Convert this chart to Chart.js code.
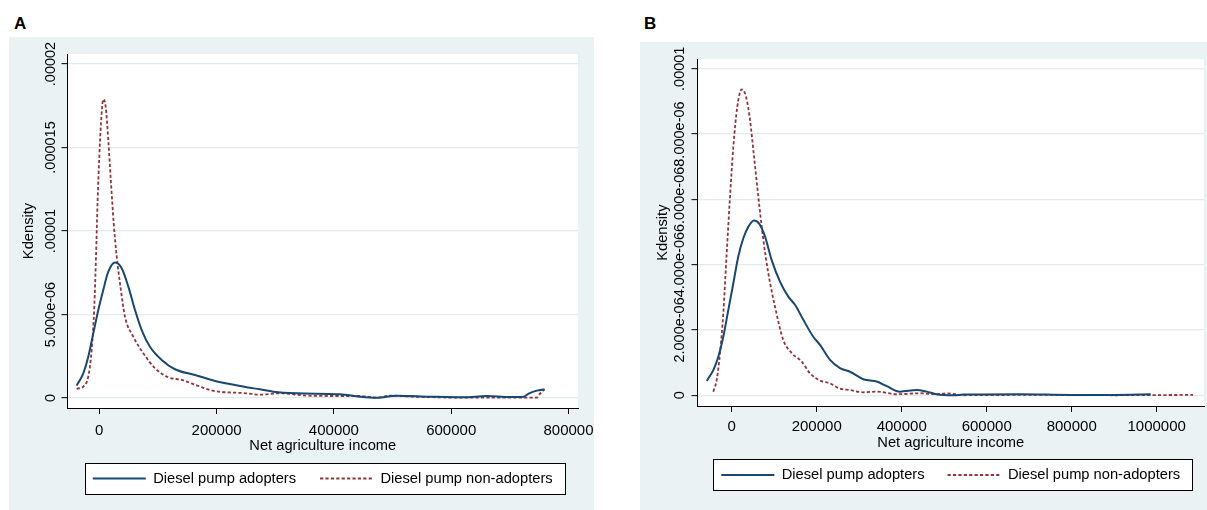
<!DOCTYPE html>
<html>
<head>
<meta charset="utf-8">
<script src="https://cdn.jsdelivr.net/npm/chart.js@4"></script>
<style>
  html, body { margin: 0; padding: 0; background: #fff; }
  body { width: 1207px; height: 510px; position: relative; overflow: hidden; font-family: "Liberation Sans", Arial, sans-serif; }
  .bg { position: absolute; background: #eaf2f3; }
  .tag { position: absolute; font-weight: bold; font-size: 17px; line-height: 17px; color: #000; }
  canvas { position: absolute; top: 0; }
</style>
</head>
<body>
<div class="tag" style="left:14px;top:15px">A</div>
<div class="tag" style="left:644px;top:15px">B</div>
<div class="bg" style="left:9px;top:37px;width:585px;height:473px"></div>
<div class="bg" style="left:640px;top:42px;width:567px;height:468px"></div>
<canvas id="chartA" width="620" height="510" style="left:0"></canvas>
<canvas id="chartB" width="587" height="510" style="left:620px"></canvas>
<script>
// ── données ─────────────────────────────────────────────────
const seriesLabels = ['Diesel pump adopters', 'Diesel pump non-adopters'];

// Panneau A
const incomeA_adopt = [-38500, -27300, -18800, -10200, -1700, 6800, 15300, 26800, 38200, 49500, 60900, 72300, 86400, 106400, 129100, 163200, 197300, 220000, 251300, 274000, 296700, 336600, 410400, 444500, 473000, 507100, 563900, 620600, 660600, 700300, 723300, 733000, 746100, 759100];
const densA_adopt = [7.4e-7, 1.48e-6, 2.47e-6, 3.87e-6, 5.27e-6, 6.47e-6, 7.56e-6, 8.12e-6, 7.77e-6, 6.67e-6, 5.27e-6, 4.07e-6, 3.07e-6, 2.28e-6, 1.72e-6, 1.38e-6, 1.02e-6, 8.5e-7, 6.4e-7, 5.2e-7, 3.8e-7, 2.8e-7, 2.2e-7, 8e-8, 2e-8, 1.4e-7, 8e-8, 4e-8, 1.2e-7, 6e-8, 8e-8, 2.8e-7, 4.4e-7, 5.2e-7];
const incomeA_non = [-38500, -24400, -18800, -13000, -8500, -5600, -2800, 0, 2900, 6800, 10900, 15300, 20000, 24600, 29700, 35300, 43800, 58000, 75000, 95000, 117600, 140500, 168800, 195000, 251300, 274000, 308100, 353600, 393400, 444500, 473000, 495700, 535400, 620600, 700300, 746100, 749400, 759100];
const densA_non = [5.4e-7, 7.8e-7, 1.28e-6, 2.87e-6, 5.47e-6, 8.46e-6, 1.186e-5, 1.445e-5, 1.645e-5, 1.789e-5, 1.744e-5, 1.545e-5, 1.286e-5, 1.046e-5, 8.46e-6, 6.87e-6, 4.87e-6, 3.67e-6, 2.68e-6, 1.78e-6, 1.24e-6, 1.08e-6, 7.2e-7, 4.3e-7, 2.8e-7, 2.0e-7, 2.8e-7, 1.4e-7, 1.2e-7, 1.2e-7, 2e-8, 1.4e-7, 8e-8, 2e-8, 2e-8, 2e-8, 1.8e-7, 5.2e-7];
const xTicksA = [0, 200000, 400000, 600000, 800000];
const xTickLabelsA = ['0', '200000', '400000', '600000', '800000'];
const yTicksA = [0, 0.000005, 0.00001, 0.000015, 0.00002];
const yTickLabelsA = ['0', '5.000e-06', '.00001', '.000015', '.00002'];

// Panneau B
const incomeB_adopt = [-58800, -43300, -31500, -19800, -8000, 3800, 15500, 27300, 39100, 52500, 64900, 78400, 94100, 113600, 133200, 148900, 168500, 192000, 207800, 231300, 254800, 278300, 309700, 341200, 364700, 396000, 435300, 458800, 482400, 521500, 545000, 678400, 800000, 900000, 986000];
const densB_adopt = [4.4e-7, 7.7e-7, 1.18e-6, 1.79e-6, 2.61e-6, 3.43e-6, 4.25e-6, 4.81e-6, 5.16e-6, 5.35e-6, 5.25e-6, 4.86e-6, 4.14e-6, 3.48e-6, 3.02e-6, 2.77e-6, 2.31e-6, 1.79e-6, 1.54e-6, 1.08e-6, 8.3e-7, 7.2e-7, 4.9e-7, 4.2e-7, 2.8e-7, 1.1e-7, 1.6e-7, 1.1e-7, 3e-8, 0, 2e-8, 3e-8, 1e-8, 1e-8, 3e-8];
const incomeB_non = [-43300, -35300, -27500, -19800, -11800, -4000, 3800, 13200, 23500, 33600, 43100, 52500, 62600, 74400, 86100, 101900, 121400, 141200, 164700, 184200, 207800, 231300, 254800, 278300, 309700, 341200, 388200, 443100, 482400, 505900, 545000, 700000, 900000, 1085600];
const densB_non = [1.1e-7, 4.7e-7, 1.29e-6, 2.51e-6, 4.35e-6, 6.08e-6, 7.61e-6, 8.84e-6, 9.37e-6, 9.15e-6, 8.43e-6, 7.31e-6, 6.08e-6, 4.76e-6, 3.74e-6, 2.71e-6, 1.69e-6, 1.29e-6, 1.03e-6, 6.7e-7, 4.5e-7, 3.6e-7, 2.0e-7, 1.6e-7, 9e-8, 1.1e-7, 3e-8, 6e-8, 3e-8, 6e-8, 0, 1e-8, 0, 1e-8];
const xTicksB = [0, 200000, 400000, 600000, 800000, 1000000];
const xTickLabelsB = ['0', '200000', '400000', '600000', '800000', '1000000'];
const yTicksB = [0, 0.000002, 0.000004, 0.000006, 0.000008, 0.00001];
const yTickLabelsB = ['0', '2.000e-06', '4.000e-06', '6.000e-06', '8.000e-06', '.00001'];

const NAVY = '#1a476f';
const MAROON = '#90353b';
const GRID = '#e1eaec';
const FONT = '"Liberation Sans", Arial, sans-serif';

Chart.defaults.font.family = FONT;
Chart.defaults.color = '#000';

const pts = (xs, ys) => xs.map((x, i) => ({ x, y: ys[i] }));

// fond blanc de la zone de tracé + cadre de la légende
const plotBg = {
  id: 'plotBg',
  beforeDraw(chart) {
    const { ctx, chartArea: a } = chart;
    ctx.save();
    ctx.fillStyle = '#fff';
    ctx.fillRect(a.left, a.top, a.right - a.left, a.bottom - a.top);
    const boxes = chart.legend && chart.legend.legendHitBoxes;
    if (boxes && boxes.length) {
      const last = boxes[boxes.length - 1];
      const l = Math.round(boxes[0].left - 8);
      const r = Math.round(last.left + last.width + 12);
      const cy = boxes[0].top + boxes[0].height / 2;
      const t = Math.round(cy - 16);
      ctx.fillRect(l, t, r - l, 31);
      ctx.strokeStyle = '#000';
      ctx.lineWidth = 1;
      ctx.strokeRect(l + 0.5, t + 0.5, r - l, 31);
    }
    ctx.restore();
  }
};

// étiquettes de l'axe Y tournées à 90° (comme Stata)
const rotatedYTicks = {
  id: 'rotatedYTicks',
  afterDraw(chart, args, opts) {
    const y = chart.scales.y;
    const ctx = chart.ctx;
    ctx.save();
    ctx.font = '14.5px ' + FONT;
    ctx.fillStyle = '#000';
    ctx.textAlign = 'center';
    ctx.textBaseline = 'middle';
    y.ticks.forEach((t, i) => {
      ctx.save();
      ctx.translate(opts.x, y.getPixelForValue(t.value));
      ctx.rotate(-Math.PI / 2);
      ctx.fillText(opts.labels[i], 0, 0);
      ctx.restore();
    });
    ctx.restore();
  }
};

function buildChart(id, c) {
  return new Chart(document.getElementById(id), {
    type: 'line',
    data: {
      datasets: [
        { label: seriesLabels[0], data: pts(c.xAdopt, c.yAdopt), borderColor: NAVY, borderWidth: 2,
          pointRadius: 0, cubicInterpolationMode: 'monotone', fill: false },
        { label: seriesLabels[1], data: pts(c.xNon, c.yNon), borderColor: MAROON, borderWidth: 1.8,
          borderDash: [3.2, 2.2], pointRadius: 0, cubicInterpolationMode: 'monotone', fill: false }
      ]
    },
    options: {
      responsive: false,
      animation: false,
      events: [],
      layout: { padding: c.padding },
      plugins: {
        tooltip: { enabled: false },
        legend: {
          position: 'bottom',
          fullSize: false,
          labels: {
            font: { size: 14.7 },
            color: '#000',
            usePointStyle: true,
            pointStyleWidth: 53,
            padding: c.legendGap,
            generateLabels: ch => ch.data.datasets.map((ds, i) => ({
              text: ds.label, datasetIndex: i, hidden: false, fontColor: '#000',
              strokeStyle: ds.borderColor, fillStyle: ds.borderColor,
              lineWidth: ds.borderWidth, lineDash: ds.borderDash || [], pointStyle: 'line'
            }))
          }
        },
        rotatedYTicks: { x: c.yLabelX, labels: c.yTickLabels }
      },
      scales: {
        x: {
          type: 'linear',
          min: c.xMin, max: c.xMax,
          afterBuildTicks: s => { s.ticks = c.xTicks.map(v => ({ value: v })); },
          afterFit: s => { s.height = c.xHeight; },
          grid: { drawOnChartArea: false, tickLength: 6, tickColor: '#000', tickWidth: 1 },
          border: { color: '#000', width: 1 },
          ticks: { padding: c.xTickPad, font: { size: 15 }, maxRotation: 0, autoSkip: false,
                   callback: (v, i) => c.xTickLabels[i] },
          title: { display: true, text: 'Net agriculture income', font: { size: 14.7 },
                   padding: { top: 0, bottom: c.xTitlePad } }
        },
        y: {
          type: 'linear',
          min: c.yMin, max: c.yMax,
          afterBuildTicks: s => { s.ticks = c.yTicks.map(v => ({ value: v })); },
          afterFit: s => { s.width = c.yWidth; },
          grid: { color: GRID, lineWidth: 1.3, tickLength: 6, tickColor: '#000', tickWidth: 1 },
          border: { color: '#000', width: 1 },
          ticks: { display: false },
          title: { display: true, text: 'Kdensity', font: { size: 14.7 },
                   padding: { top: c.yTitlePad, bottom: c.yTitlePad } }
        }
      }
    },
    plugins: [plotBg, rotatedYTicks]
  });
}

buildChart('chartA', {
  xAdopt: incomeA_adopt, yAdopt: densA_adopt, xNon: incomeA_non, yNon: densA_non,
  xMin: -54200, xMax: 816200, yMin: -6.0e-7, yMax: 2.06e-5,
  xTicks: xTicksA, xTickLabels: xTickLabelsA, yTicks: yTicksA, yTickLabels: yTickLabelsA,
  padding: { left: 0, top: 54, right: 42, bottom: 14.15 },
  yWidth: 67.5, yLabelX: 51, yTitlePad: 20.2,
  xHeight: 39.15, xTickPad: 8, xTitlePad: -8.1, legendGap: 24
});

buildChart('chartB', {
  xAdopt: incomeB_adopt, yAdopt: densB_adopt, xNon: incomeB_non, yNon: densB_non,
  xMin: -80500, xMax: 1111300, yMin: -3.3e-7, yMax: 1.029e-5,
  xTicks: xTicksB, xTickLabels: xTickLabelsB, yTicks: yTicksB, yTickLabels: yTickLabelsB,
  padding: { left: 0, top: 59.3, right: 3, bottom: 17.65 },
  yWidth: 77.5, yLabelX: 59.6, yTitlePad: 34.2,
  xHeight: 38.65, xTickPad: 6, xTitlePad: -7.5, legendGap: 23
});
</script>
</body>
</html>
